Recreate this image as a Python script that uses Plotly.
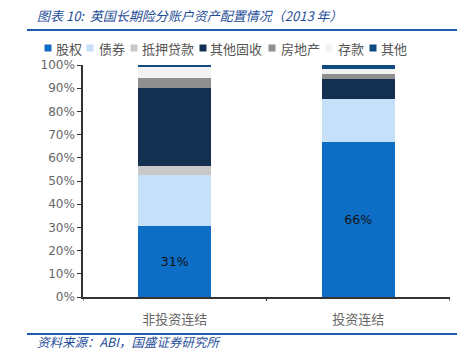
import plotly.graph_objects as go

categories = ["非投资连结", "投资连结"]
series_names = ["股权", "债券", "抵押贷款", "其他固收", "房地产", "存款", "其他"]
colors = ["#0E6DC5", "#C5E0F8", "#C8C8C8", "#132F52", "#8F8F8F", "#F2F2F2", "#0F4A80"]
values = {
    "股权": [30.6, 66.6],
    "债券": [22.0, 18.6],
    "抵押贷款": [4.0, 0.0],
    "其他固收": [33.6, 8.9],
    "房地产": [4.1, 2.0],
    "存款": [4.7, 2.2],
    "其他": [1.0, 1.7],
}
bar_labels = ["31%", "66%"]
yticks = list(range(0, 101, 10))
ytick_labels = [f"{v}%" for v in yticks]

W, H = 475, 351
L, R, T, B = 83, 450, 65, 297
pw, ph = R - L, B - T

def px(x):
    return (x - L) / pw

def py(y):
    return (B - y) / ph

FONT = "Noto Sans CJK SC"
fig = go.Figure()
for name, col in zip(series_names, colors):
    fig.add_trace(go.Bar(
        x=categories, y=values[name], name=name, marker_color=col,
        marker_line_width=0, width=0.4, showlegend=False,
        text=bar_labels if name == "股权" else None,
        textposition="inside" if name == "股权" else "none",
        insidetextanchor="middle",
        textfont=dict(family="DejaVu Sans", size=12.5, color="#111111"),
        hoverinfo="skip",
    ))

fig.update_layout(
    width=W, height=H, barmode="stack", bargap=0.6, showlegend=False,
    margin=dict(l=L, r=W - R, t=T, b=H - B, pad=0),
    plot_bgcolor="white", paper_bgcolor="white",
    font=dict(family=FONT, size=12, color="#595959"),
    xaxis=dict(showline=True, linecolor="#333333", linewidth=1.5, ticks="",
               tickfont=dict(family=FONT, size=13, color="#666666"),
               ticklabelstandoff=10, range=[-0.5, 1.5]),
    yaxis=dict(range=[0, 100], tickvals=yticks, ticktext=ytick_labels, showline=True,
               linecolor="#333333", linewidth=1.5, ticks="outside", ticklen=4,
               tickcolor="#333333", showgrid=False, zeroline=False,
               tickfont=dict(family="DejaVu Sans", size=12, color="#666666")),
)

# x axis category-boundary ticks
for xv in [-0.5, 0.5, 1.5]:
    fig.add_shape(type="line", xref="x", yref="paper", x0=xv, x1=xv, y0=0, y1=-4 / ph,
                  line=dict(color="#333333", width=1.2))

# legend (drawn manually to reproduce compact spacing)
marker_cx = [48, 90, 134, 203, 272, 329, 373]
text_x = [54, 97, 140, 208, 279, 336, 379]
ly = 48
for name, col, mx, tx in zip(series_names, colors, marker_cx, text_x):
    fig.add_shape(type="rect", xref="paper", yref="paper",
                  x0=px(mx - 3.5), x1=px(mx + 3.5), y0=py(ly + 3.5), y1=py(ly - 3.5),
                  fillcolor=col, line_width=0)
    fig.add_annotation(text=name, xref="paper", yref="paper", x=px(tx), y=py(ly),
                       xanchor="left", yanchor="middle", showarrow=False,
                       font=dict(family=FONT, size=13, color="#555555"))

# header and footer rules
fig.add_shape(type="line", xref="paper", yref="paper", x0=px(27), x1=px(457),
              y0=py(30), y1=py(30), line=dict(color="#1F5BA8", width=2))
fig.add_shape(type="line", xref="paper", yref="paper", x0=px(27), x1=px(457),
              y0=py(334), y1=py(334), line=dict(color="#1F5BA8", width=2))

fig.add_annotation(text="<i>图表 10:  英国长期险分账户资产配置情况（2013 年）</i>",
                   xref="paper", yref="paper", x=px(35), y=py(16), xanchor="left",
                   yanchor="middle", showarrow=False,
                   font=dict(family=FONT, size=13, color="#1F4E99"))
fig.add_annotation(text="<i>资料来源：ABI，国盛证券研究所</i>",
                   xref="paper", yref="paper", x=px(35), y=py(341.5), xanchor="left",
                   yanchor="middle", showarrow=False,
                   font=dict(family=FONT, size=12.5, color="#1F4E99"))

fig.write_html("out.html")
